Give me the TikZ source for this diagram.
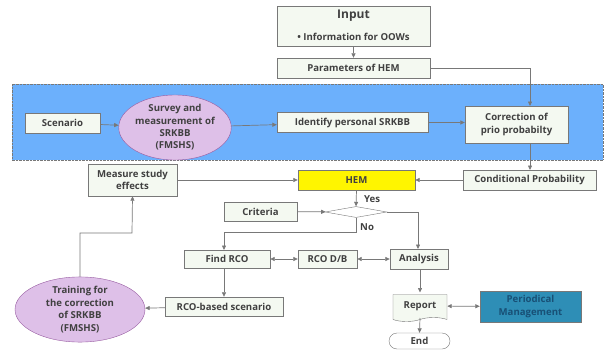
\documentclass[tikz,border=0pt]{standalone}
\usepackage{fontspec}
\setmainfont{Open Sans}
\usetikzlibrary{arrows.meta,shapes.geometric,shapes.symbols,shapes.misc}
\definecolor{boxfill}{RGB}{244,249,241}
\definecolor{boxline}{RGB}{120,120,120}
\definecolor{txt}{RGB}{64,64,64}
\definecolor{band}{RGB}{108,176,252}
\definecolor{lav}{RGB}{222,192,232}
\definecolor{lavline}{RGB}{150,90,160}
\definecolor{teal}{RGB}{46,142,182}
\definecolor{tealtxt}{RGB}{24,80,118}
\definecolor{hemy}{RGB}{255,245,0}
\tikzset{
  x=1pt, y=-1pt,
  every node/.style={font=\fontsize{9.6}{12.4}\selectfont\bfseries, text=txt, inner sep=1pt},
  box/.style={draw=boxline, fill=boxfill, minimum height=19pt, align=center},
  oval/.style={ellipse, draw=lavline, fill=lav, align=center, inner sep=0pt},
  tip/.style={Triangle[length=4.5pt,width=4pt]},
  link/.style={draw=boxline, line width=0.7pt, -{Triangle[length=4.5pt,width=4pt]}},
  dlink/.style={draw=boxline, line width=0.7pt, {Triangle[length=4.5pt,width=4pt]}-{Triangle[length=4.5pt,width=4pt]}},
}
\begin{document}
\begin{tikzpicture}
\useasboundingbox (0,0) rectangle (611,351);
% shaded band
\fill[band] (12,84) rectangle (603,160);
\draw[boxline, densely dotted] (12,84) rectangle (603,160);

% top inputs
\node[box, minimum width=153pt, minimum height=40pt] (input) at (353.5,26) {};
\node[font=\fontsize{12}{14}\selectfont\bfseries] (intitle) at (353.5,16) {Input};
\node (inlist) at (353.5,36.5) {• Information for OOWs};
\node[box, minimum width=153pt, minimum height=20pt] (param) at (353.5,68) {Parameters of HEM};

% band content
\node[box, minimum width=75pt, minimum height=20pt] (scen) at (62.5,123) {Scenario};
\node[oval, minimum width=104pt, minimum height=65pt] (survey) at (175,127.5) {Survey and\\measurement of\\SRKBB\\(FMSHS)};
\node[box, minimum width=151pt, minimum height=20pt] (ident) at (352.5,122.5) {Identify personal SRKBB};
\node[box, minimum width=103pt, minimum height=37pt] (corr) at (516.5,124.5) {Correction of\\prio probabilty};

% middle row
\node[box, minimum width=133pt, minimum height=20pt] (cond) at (529.5,180) {Conditional Probability};
\node[box, fill=hemy, minimum width=117pt, minimum height=20pt] (hem) at (356.5,180) {HEM};
\node[box, minimum width=89pt, minimum height=32pt] (meas) at (132.5,180) {Measure study\\effects};
\node[diamond, draw=boxline, fill=white, aspect=6, minimum width=62pt, minimum height=11pt, inner sep=0pt] (dec) at (356,212) {};
\node[box, minimum width=73pt, minimum height=19pt] (crit) at (260.5,211.5) {Criteria};
\node[anchor=west] (yes) at (363,199.5) {Yes};
\node[anchor=west] (no) at (359,227) {No};

% lower rows
\node[box, minimum width=86pt, minimum height=18pt] (find) at (227,259) {Find RCO};
\node[box, minimum width=59pt, minimum height=18pt] (rcodb) at (327.5,259) {RCO D/B};
\node[box, minimum width=58pt, minimum height=20pt] (anal) at (419,259) {Analysis};
\node[box, minimum width=118pt, minimum height=19pt] (rsc) at (224,306.5) {RCO-based scenario};
\node[oval, minimum width=130pt, minimum height=65pt] (train) at (80,309.5) {Training for\\the correction\\of SRKBB\\(FMSHS)};
\node[tape, tape bend top=none, tape bend height=4pt, draw=boxline, fill=boxfill, minimum width=54pt, minimum height=27pt] (rep) at (420,306) {Report};
\node[draw=boxline, fill=teal, minimum width=101pt, minimum height=31pt, align=center, text=tealtxt] (per) at (530.5,306.5) {Periodical\\Management};
\node[rounded rectangle, draw=boxline, fill=white, minimum width=63pt, minimum height=16pt] (endn) at (419.5,341) {End};

% connectors
\draw[link] (input.south) -- (param.north);
\draw[link] (param.east) -- (530,68) -- (530,106);
\draw[link] (scen) -- (survey);
\draw[link] (survey) -- (ident);
\draw[link] (ident.east) -- (ident.east -| corr.west);
\draw[link] (530,143) -- (530,170);
\draw[link] (cond) -- (hem);
\draw[link] (meas) -- (hem);
\draw[link] (hem.south) -- (dec.north);
\draw[link] (crit) -- (dec);
\draw[link] (dec.east) -- (418,212) -- (418,249);
\draw[link] (dec.south) -- (356,232) -- (224,232) -- (224,250);
\draw[dlink] (find) -- (rcodb);
\draw[dlink] (rcodb) -- (anal);
\draw[link] (224,268) -- (rsc.north);
\draw[link] (rsc) -- (train);
\draw[link] (train.north) -- (80,233) -- (132,233) -- (meas.south);
\draw[link] (420,269) -- (420,292.5);
\draw[dlink] (rep) -- (per);
\draw[link] (420,318) -- (endn.north);
\end{tikzpicture}
\end{document}
